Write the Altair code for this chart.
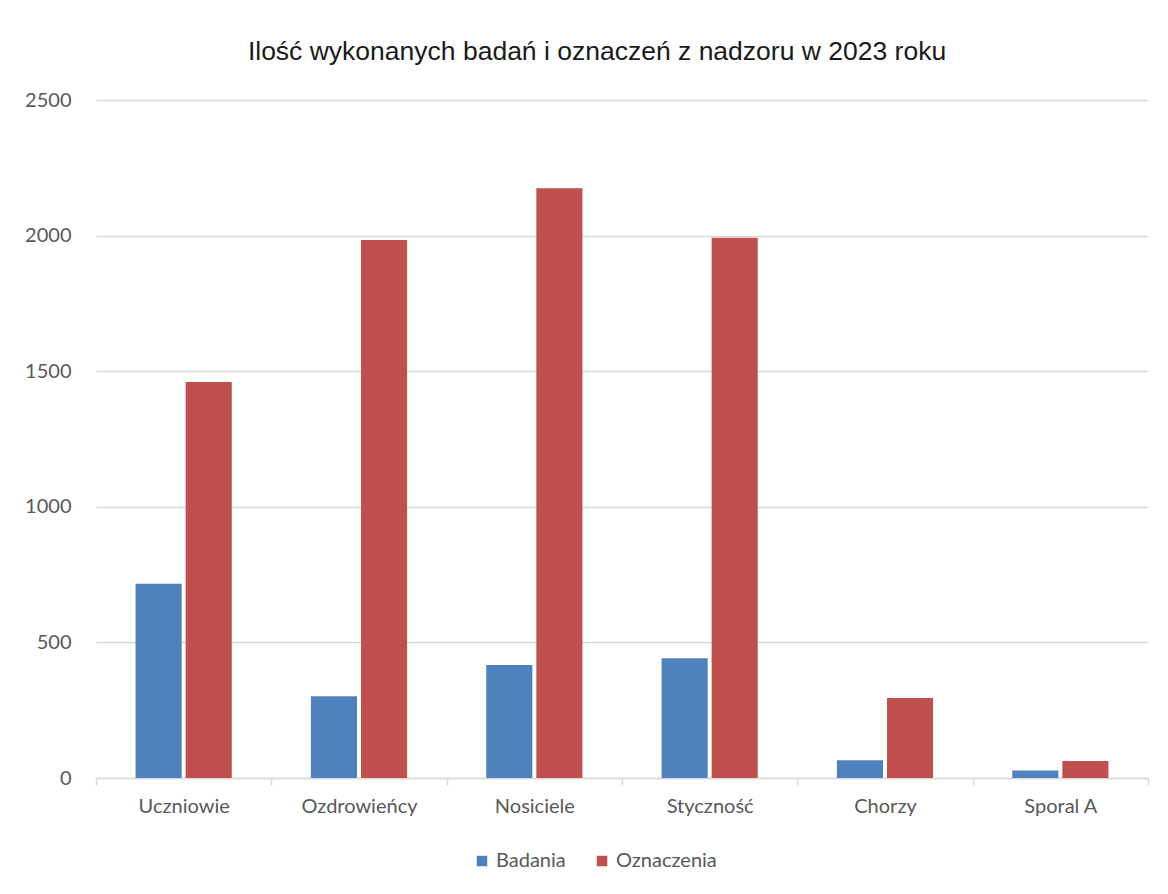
import altair as alt
import pandas as pd

categories = ["Uczniowie", "Ozdrowieńcy", "Nosiciele", "Styczność", "Chorzy", "Sporal A"]
badania = [716, 301, 417, 442, 65, 28]
oznaczenia = [1460, 1984, 2175, 1992, 295, 63]
series = ["Badania", "Oznaczenia"]
colors = ["#4F81BD", "#C0504D"]
y_ticks = [0, 500, 1000, 1500, 2000, 2500]

rows = []
for c, b, o in zip(categories, badania, oznaczenia):
    rows.append({"kategoria": c, "seria": series[0], "wartosc": b})
    rows.append({"kategoria": c, "seria": series[1], "wartosc": o})
df = pd.DataFrame(rows)

label_font = "Lato"

chart = alt.Chart(df).mark_bar().encode(
    x=alt.X("kategoria:N", sort=categories, title=None,
            scale=alt.Scale(paddingInner=0, paddingOuter=0),
            axis=alt.Axis(labelAngle=0, labelFontSize=20, labelColor="#595959",
                          labelFont=label_font, labelPadding=11,
                          domainColor="#D9D9D9", domainWidth=1.5,
                          tickColor="#D9D9D9", tickWidth=1.5, tickSize=7,
                          tickBand="extent", grid=False)),
    xOffset=alt.XOffset("seria:N", sort=series,
                        scale=alt.Scale(paddingInner=0.08, paddingOuter=0.79)),
    y=alt.Y("wartosc:Q", title=None,
            scale=alt.Scale(domain=[0, 2500]),
            axis=alt.Axis(values=y_ticks, format="d", labelFontSize=20,
                          labelColor="#595959",
                          labelFont=label_font, labelPadding=25,
                          domain=False, ticks=False,
                          gridColor="#D9D9D9", gridWidth=1.5)),
    color=alt.Color("seria:N", sort=series,
                    scale=alt.Scale(domain=series, range=colors),
                    legend=alt.Legend(title=None, orient="none", direction="horizontal",
                                      legendX=376, legendY=751,
                                      symbolType="square", symbolSize=110,
                                      symbolStrokeWidth=0,
                                      labelFontSize=20, labelColor="#595959",
                                      labelFont=label_font, columnPadding=26)),
).properties(
    width=1052,
    height=678,
    title=alt.TitleParams(
        "Ilość wykonanych badań i oznaczeń z nadzoru w 2023 roku",
        font="Liberation Sans", fontSize=26.5, fontWeight="normal",
        color="#1a1a1a", anchor="middle", offset=25, dx=-25,
    ),
    padding={"left": 16, "top": 30, "right": 10, "bottom": 10},
).configure_view(stroke=None)

chart.save("out.html", embed_options={"renderer": "svg", "actions": False})
